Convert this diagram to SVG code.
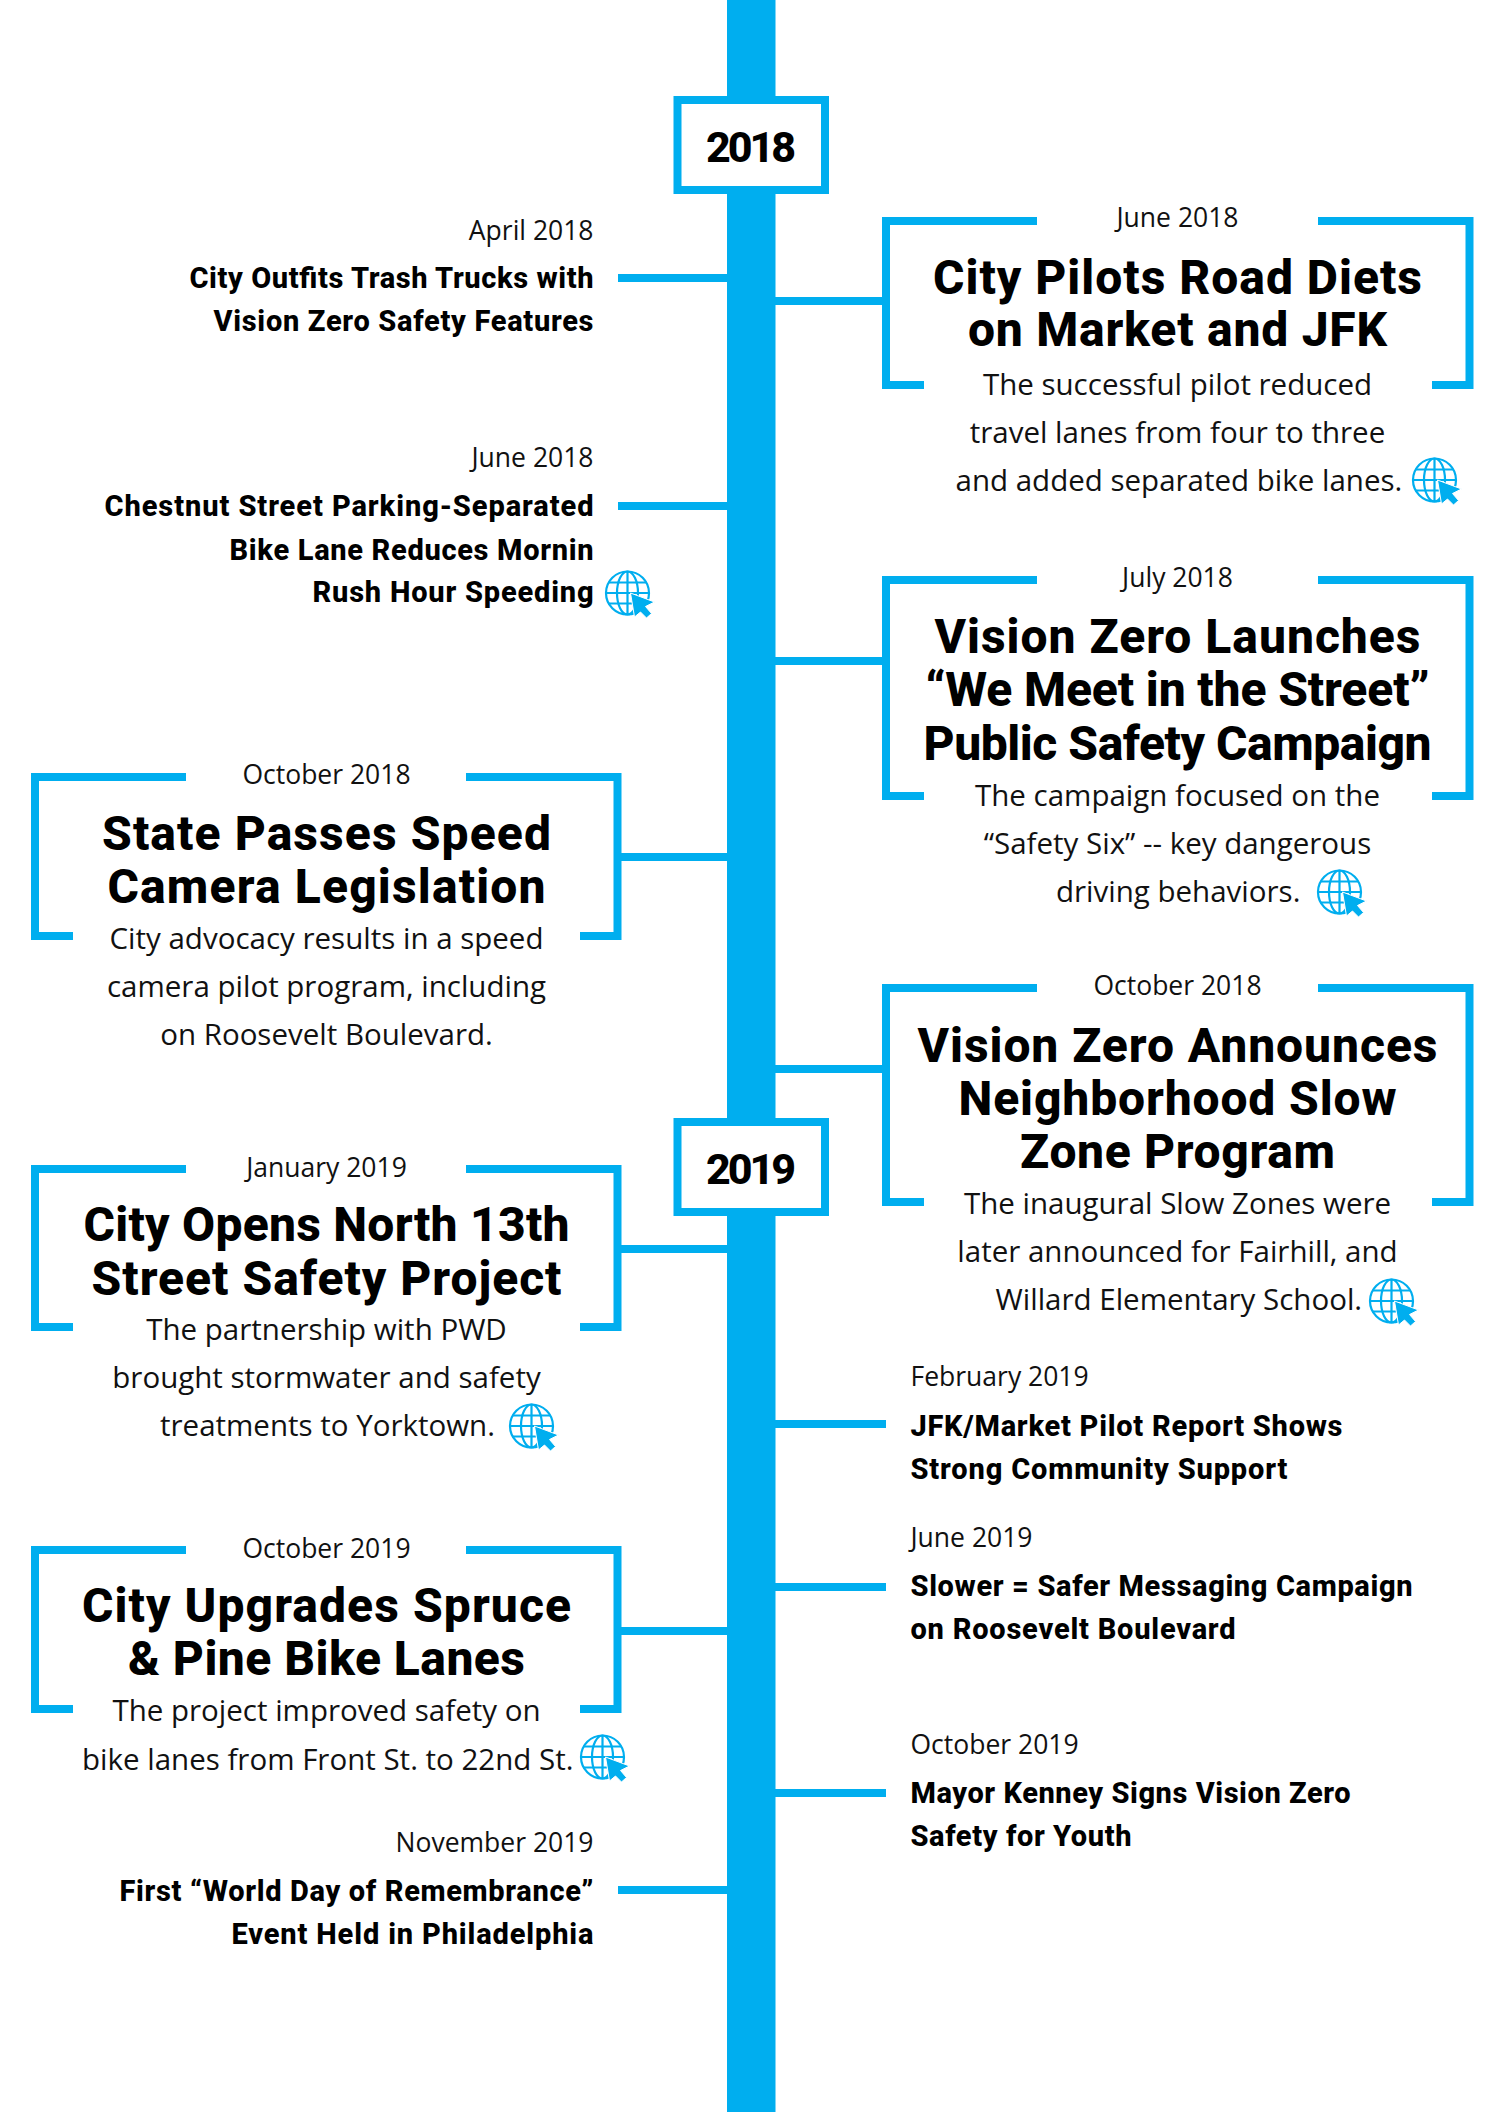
<svg xmlns="http://www.w3.org/2000/svg" width="1492" height="2112" viewBox="0 0 1492 2112">
<style>
.c{fill:none;stroke:#00aeef;stroke-width:8}
.d{font:400 26.5px "Open Sans",sans-serif;fill:#111}
.b{font:400 29.5px "Open Sans",sans-serif;fill:#111}
.h{font:800 48px Roboto,sans-serif;fill:#000}
.s{font:800 29px Roboto,sans-serif;fill:#000}
.y{font:800 43px Roboto,sans-serif;fill:#000}
.m{text-anchor:middle}.e{text-anchor:end}
</style>
<defs>
<g id="web">
<g fill="none" stroke="#00aeef" stroke-width="2.2"><circle cx="0" cy="0" r="21.5"/><ellipse cx="0" cy="0" rx="10.5" ry="21.5"/><path d="M0-21.5V21.5M-21.5 0H21.5M-19-10.5H19M-19 10.5H19"/></g>
<path d="M3 0L27 9L18 13.5L24 20.5L19 25L13 19L7 24Z" fill="#00aeef" stroke="#fff" stroke-width="1"/>
</g>
</defs>
<rect width="1492" height="2112" fill="#fff"/>
<g id="connectors">
<rect x="727" y="0" width="48.5" height="2112" fill="#00aeef"/>
<path class="c" d="M618 278H727M618 506H727M621 857H727M621 1249H727M621 1631H727M618 1890H727M775 301H883M775 661H883M775 1069H883M775 1424H886M775 1587H886M775 1793H886"/>
</g>
<g id="year-2018"><rect x="677.5" y="100" width="147.5" height="90" fill="#fff" stroke="#00aeef" stroke-width="8"/><text class="y m" x="751" y="162" textLength="90">2018</text></g>
<g id="year-2019"><rect x="677.5" y="1122" width="147.5" height="90" fill="#fff" stroke="#00aeef" stroke-width="8"/><text class="y m" x="751" y="1184" textLength="90">2019</text></g>

<g id="n-apr18"><text class="d e" x="593.5" y="240">April 2018</text><text class="s e" x="593.5" y="288" textLength="404">City Outfits Trash Trucks with</text><text class="s e" x="593.5" y="331" textLength="380">Vision Zero Safety Features</text></g>
<g id="n-jun18l"><text class="d e" x="593.5" y="467">June 2018</text><text class="s e" x="593.5" y="516" textLength="489">Chestnut Street Parking-Separated</text><text class="s e" x="593.5" y="560" textLength="364">Bike Lane Reduces Mornin</text><text class="s e" x="593.5" y="602" textLength="281">Rush Hour Speeding</text><use href="#web" x="627.5" y="593"/></g>
<g id="n-oct18l"><path class="c" d="M186 777H35V936H73M466 777H617.5V936H580"/><text class="d m" x="326.5" y="784">October 2018</text><text class="h m" x="326.5" y="849.5" textLength="449">State Passes Speed</text><text class="h m" x="326.5" y="902.5" textLength="438">Camera Legislation</text><text class="b m" x="326.5" y="949">City advocacy results in a speed</text><text class="b m" x="326.5" y="997">camera pilot program, including</text><text class="b m" x="326.5" y="1045">on Roosevelt Boulevard.</text></g>
<g id="n-jan19"><path class="c" d="M186 1169H35V1327H73M466 1169H617.5V1327H580"/><text class="d m" x="326.5" y="1177">January 2019</text><text class="h m" x="326.5" y="1241" textLength="486">City Opens North 13th</text><text class="h m" x="326.5" y="1294.5" textLength="470">Street Safety Project</text><text class="b m" x="326.5" y="1340">The partnership with PWD</text><text class="b m" x="326.5" y="1388">brought stormwater and safety</text><text class="b" x="160" y="1436">treatments to Yorktown.</text><use href="#web" x="531.5" y="1426"/></g>
<g id="n-oct19l"><path class="c" d="M186 1550H35V1709H73M466 1550H617.5V1709H580"/><text class="d m" x="326.5" y="1558">October 2019</text><text class="h m" x="326.5" y="1622" textLength="489">City Upgrades Spruce</text><text class="h m" x="326.5" y="1675" textLength="397">&amp; Pine Bike Lanes</text><text class="b m" x="326.5" y="1721">The project improved safety on</text><text class="b" x="82" y="1770">bike lanes from Front St. to 22nd St.</text><use href="#web" x="602.5" y="1757"/></g>
<g id="n-nov19"><text class="d e" x="593.5" y="1852">November 2019</text><text class="s e" x="593.5" y="1901" textLength="474">First “World Day of Remembrance”</text><text class="s e" x="593.5" y="1944" textLength="362">Event Held in Philadelphia</text></g>

<g id="n-jun18r"><path class="c" d="M1037 221H886V385H924M1318 221H1469.5V385H1432"/><text class="d m" x="1177.5" y="227">June 2018</text><text class="h m" x="1177.5" y="293.5" textLength="489">City Pilots Road Diets</text><text class="h m" x="1177.5" y="346" textLength="419">on Market and JFK</text><text class="b m" x="1177.5" y="395">The successful pilot reduced</text><text class="b m" x="1177.5" y="443">travel lanes from four to three</text><text class="b" x="955.5" y="490.5">and added separated bike lanes.</text><use href="#web" x="1434.5" y="480"/></g>
<g id="n-jul18"><path class="c" d="M1037 580H886V796H924M1318 580H1469.5V796H1432"/><text class="d m" x="1177.5" y="587">July 2018</text><text class="h m" x="1177.5" y="652.5" textLength="486">Vision Zero Launches</text><text class="h m" x="1177.5" y="706" textLength="504">“We Meet in the Street”</text><text class="h m" x="1177.5" y="759.5" textLength="508">Public Safety Campaign</text><text class="b m" x="1177.5" y="806">The campaign focused on the</text><text class="b m" x="1177.5" y="854">“Safety Six” -- key dangerous</text><text class="b" x="1056" y="902">driving behaviors.</text><use href="#web" x="1339.5" y="892"/></g>
<g id="n-oct18r"><path class="c" d="M1037 988H886V1202H924M1318 988H1469.5V1202H1432"/><text class="d m" x="1177.5" y="995">October 2018</text><text class="h m" x="1177.5" y="1061.5" textLength="520">Vision Zero Announces</text><text class="h m" x="1177.5" y="1115" textLength="438">Neighborhood Slow</text><text class="h m" x="1177.5" y="1167.5" textLength="315">Zone Program</text><text class="b m" x="1177.5" y="1214">The inaugural Slow Zones were</text><text class="b m" x="1177.5" y="1262">later announced for Fairhill, and</text><text class="b" x="995.5" y="1309.5">Willard Elementary School.</text><use href="#web" x="1391.5" y="1301"/></g>
<g id="n-feb19"><text class="d" x="910.5" y="1386">February 2019</text><text class="s" x="910.5" y="1436" textLength="432">JFK/Market Pilot Report Shows</text><text class="s" x="910.5" y="1479" textLength="377">Strong Community Support</text></g>
<g id="n-jun19"><text class="d" x="910.5" y="1546.5">June 2019</text><text class="s" x="910.5" y="1596" textLength="502">Slower = Safer Messaging Campaign</text><text class="s" x="910.5" y="1639" textLength="325">on Roosevelt Boulevard</text></g>
<g id="n-oct19r"><text class="d" x="910.5" y="1753.5">October 2019</text><text class="s" x="910.5" y="1803" textLength="440">Mayor Kenney Signs Vision Zero</text><text class="s" x="910.5" y="1846" textLength="221">Safety for Youth</text></g>
</svg>
